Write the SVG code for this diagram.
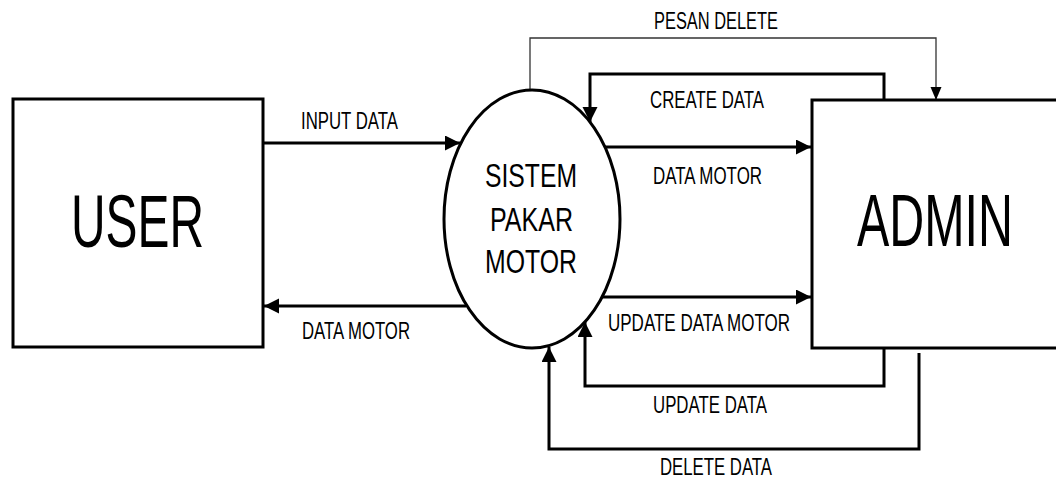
<svg xmlns="http://www.w3.org/2000/svg" width="1056" height="478" viewBox="0 0 1056 478">
  <style>
    .box { fill: #fff; stroke: #000; stroke-width: 3; }
    .flow { fill: none; stroke: #000; stroke-width: 3; }
    .thin { fill: none; stroke: #333; stroke-width: 1.3; }
    text { font-family: "Liberation Sans", Arial, sans-serif; fill: #000; }
    .lbl { font-size: 23px; }
    .big { font-size: 74px; }
    .proc { font-size: 34px; }
  </style>
  <defs>
    <marker id="arrow" markerUnits="userSpaceOnUse" markerWidth="16" markerHeight="16" refX="15" refY="7.5" orient="auto">
      <path d="M0,0 L15,7.5 L0,15 z" fill="#000"/>
    </marker>
    <marker id="arrowSmall" markerUnits="userSpaceOnUse" markerWidth="14" markerHeight="14" refX="13" refY="5.5" orient="auto">
      <path d="M0,0 L13,5.5 L0,11 z" fill="#000"/>
    </marker>
  </defs>
  <rect width="1056" height="478" fill="#fff"/>

  <!-- connectors -->
  <g id="connectors">
    <path class="flow" d="M263,143 H460" marker-end="url(#arrow)"/>
    <path class="flow" d="M466,306 H264" marker-end="url(#arrow)"/>
    <path class="flow" d="M603,147 H811" marker-end="url(#arrow)"/>
    <path class="flow" d="M602,297 H811" marker-end="url(#arrow)"/>
    <path class="flow" d="M884,100 V74 H590 V122" marker-end="url(#arrow)"/>
    <path class="thin" d="M530,90 V38 H936 V100" marker-end="url(#arrowSmall)"/>
    <path class="flow" d="M884,348 V386 H585 V322" marker-end="url(#arrow)"/>
    <path class="flow" d="M919,353 V449 H549 V347" marker-end="url(#arrow)"/>

    <text class="lbl" x="301" y="129" textLength="97" lengthAdjust="spacingAndGlyphs">INPUT DATA</text>
    <text class="lbl" x="302" y="339" textLength="108" lengthAdjust="spacingAndGlyphs">DATA MOTOR</text>
    <text class="lbl" x="654" y="29" textLength="124" lengthAdjust="spacingAndGlyphs">PESAN DELETE</text>
    <text class="lbl" x="650" y="108" textLength="114" lengthAdjust="spacingAndGlyphs">CREATE DATA</text>
    <text class="lbl" x="653" y="184" textLength="109" lengthAdjust="spacingAndGlyphs">DATA MOTOR</text>
    <text class="lbl" x="608" y="331" textLength="182" lengthAdjust="spacingAndGlyphs">UPDATE DATA MOTOR</text>
    <text class="lbl" x="653" y="413" textLength="114" lengthAdjust="spacingAndGlyphs">UPDATE DATA</text>
    <text class="lbl" x="660" y="475" textLength="112" lengthAdjust="spacingAndGlyphs">DELETE DATA</text>
  </g>

  <!-- external entity: user -->
  <g id="user">
    <rect class="box" x="13" y="99" width="250" height="248"/>
    <text class="big" transform="translate(71,247) scale(0.647,1)">USER</text>
  </g>

  <!-- central process -->
  <g id="sistem-pakar-motor">
    <ellipse class="box" cx="532" cy="219" rx="88" ry="129"/>
    <text class="proc" x="485" y="187" textLength="92" lengthAdjust="spacingAndGlyphs">SISTEM</text>
    <text class="proc" x="490" y="231" textLength="83" lengthAdjust="spacingAndGlyphs">PAKAR</text>
    <text class="proc" x="485" y="273" textLength="92" lengthAdjust="spacingAndGlyphs">MOTOR</text>
  </g>

  <!-- external entity: admin -->
  <g id="admin">
    <rect class="box" x="812" y="100" width="260" height="248"/>
    <text class="big" transform="translate(857,246) scale(0.654,1)">ADMIN</text>
  </g>
</svg>
